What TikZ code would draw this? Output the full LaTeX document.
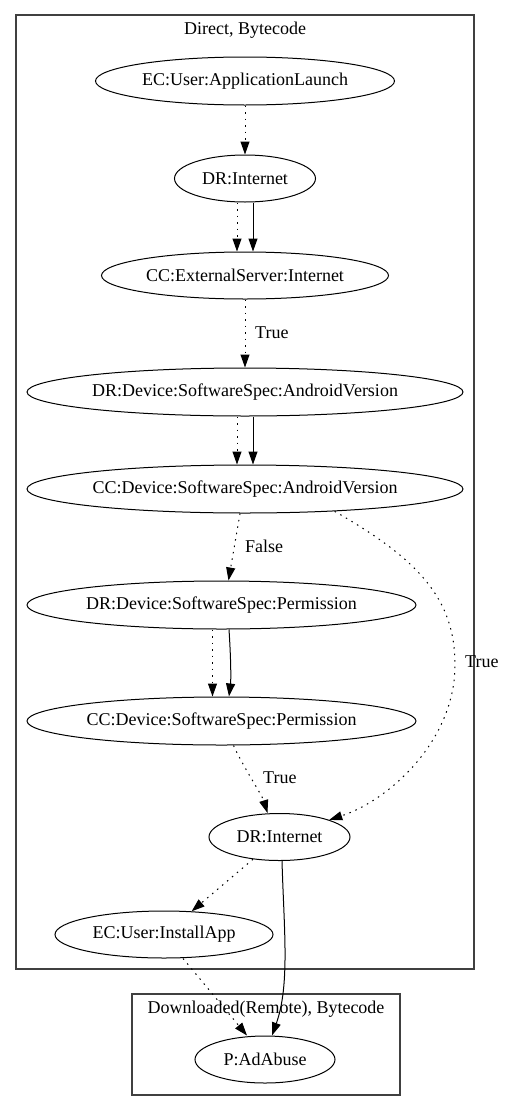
\documentclass[tikz,border=0pt]{standalone}
\usepackage{fontspec}
\setmainfont{Liberation Serif}
\newfontfamily\gvfont{Liberation Serif}
\usetikzlibrary{arrows.meta,shapes.geometric}
\begin{document}
\begin{tikzpicture}[x=1pt,y=-1pt,
  every node/.style={font=\gvfont\fontsize{18}{21}\selectfont},
  ell/.style={draw,ellipse,inner sep=0pt,line width=1pt},
  edg/.style={line width=1pt,-{Triangle[length=13pt,width=9pt]}},
  dotedge/.style={edg,dash pattern=on 1.5pt off 5pt},
  lbl/.style={anchor=west,inner sep=0pt},
  clus/.style={draw=black!75,line width=1.3pt}]
\useasboundingbox (0,0) rectangle (505,1111);
% clusters
\draw[clus] (16,15) rectangle (474,969);
\node (t1) at (245,30) {Direct, Bytecode};
\draw[clus] (132,994) rectangle (400,1095);
\node (t2) at (266,1009) {Downloaded(Remote), Bytecode};
% nodes
\node[ell,minimum width=299pt,minimum height=48pt] (n1) at (245,81) {EC:User:ApplicationLaunch};
\node[ell,minimum width=141pt,minimum height=47pt] (n2) at (245,178.5) {DR:Internet};
\node[ell,minimum width=287pt,minimum height=47pt] (n3) at (245,275.5) {CC:ExternalServer:Internet};
\node[ell,minimum width=436pt,minimum height=48pt] (n4) at (245,392) {DR:Device:SoftwareSpec:AndroidVersion};
\node[ell,minimum width=436pt,minimum height=48pt] (n5) at (245,489) {CC:Device:SoftwareSpec:AndroidVersion};
\node[ell,minimum width=389pt,minimum height=48pt] (n6) at (221.5,605) {DR:Device:SoftwareSpec:Permission};
\node[ell,minimum width=389pt,minimum height=48pt] (n7) at (221.5,721) {CC:Device:SoftwareSpec:Permission};
\node[ell,minimum width=141pt,minimum height=47pt] (n8) at (279.5,837) {DR:Internet};
\node[ell,minimum width=218pt,minimum height=47pt] (n9) at (164,934.5) {EC:User:InstallApp};
\node[ell,minimum width=140pt,minimum height=47pt] (n10) at (265,1059.5) {P:AdAbuse};
% edges
\draw[dotedge] (n1.south) -- (n2.north);
\draw[dotedge] ([xshift=-8pt]n2.south) -- ([xshift=-8pt]n3.north);
\draw[edg] ([xshift=8pt]n2.south) -- ([xshift=8pt]n3.north);
\draw[dotedge] (n3.south) -- (n4.north);
\node[lbl] (l1) at (255,333) {True};
\draw[dotedge] ([xshift=-8pt]n4.south) -- ([xshift=-8pt]n5.north);
\draw[edg] ([xshift=8pt]n4.south) -- ([xshift=8pt]n5.north);
\draw[dotedge] ([xshift=-5pt]n5.south) -- ([xshift=7pt]n6.north);
\node[lbl] (l2) at (245,546) {False};
\draw[dotedge] (n5.-14.6) .. controls (420,560) and (455,600) .. (455,665)
   .. controls (455,740) and (390,800) .. (n8.19);
\node[lbl] (l3) at (465,662) {True};
\draw[dotedge] ([xshift=-9pt]n6.south) -- ([xshift=-9pt]n7.north);
\draw[edg] ([xshift=7.5pt]n6.south) .. controls (231,660) and (231,680) .. ([xshift=7.5pt]n7.north);
\draw[dotedge] ([xshift=12pt]n7.south) .. controls (245,770) and (262,795) .. ([xshift=-12pt]n8.north);
\node[lbl] (l4) at (263,778) {True};
\draw[dotedge] (n8.-140) -- (n9.40);
\draw[dotedge] ([xshift=19pt]n9.south) -- ([xshift=-18pt]n10.north);
\draw[edg] ([xshift=2.5pt]n8.south) .. controls (284,930) and (290,985) .. ([xshift=7pt]n10.north);
\end{tikzpicture}
\end{document}
